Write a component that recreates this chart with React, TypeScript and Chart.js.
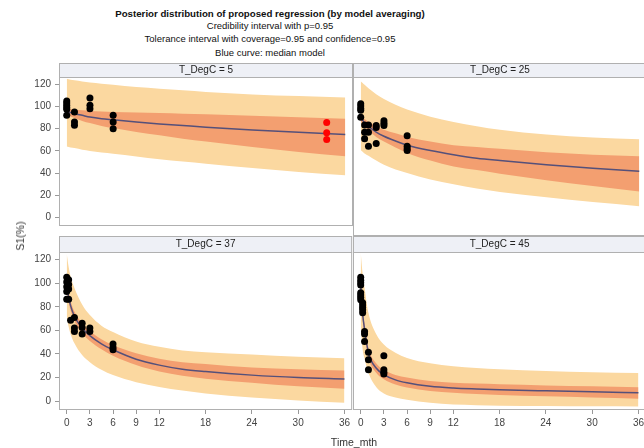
import React, { useEffect, useRef } from "react";
import { Chart, registerables } from "chart.js";

Chart.register(...registerables);

// ---------- data ----------
const TIMES = [0, 0.25, 0.5, 1, 2, 3, 4.5, 6, 9, 12, 15, 18, 24, 30, 36];
const X_TICKS = [0, 3, 6, 9, 12, 18, 24, 30, 36];
const Y_TICKS = [0, 20, 40, 60, 80, 100, 120];

const TITLE_LINES = [
  "Posterior distribution of proposed regression (by model averaging)",
  "Credibility interval with p=0.95",
  "Tolerance interval with coverage=0.95 and confidence=0.95",
  "Blue curve: median model",
];
const Y_TITLE = "S1(%)";
const X_TITLE = "Time_mth";

// T_DegC = 5
const MED_5 = [95.5, 95, 94.5, 93.5, 92, 90.5, 89, 88, 86, 84.3, 82.8, 81.3, 78.8, 76.7, 74.7];
const CRED_HI_5 = [98, 97.8, 97.5, 97, 96.5, 96, 95.5, 95, 94.5, 94, 93.5, 93, 91.7, 90.3, 89];
const CRED_LO_5 = [92.5, 91.8, 91, 89.5, 87, 85, 82.5, 80.5, 77, 74, 71, 68.5, 63.5, 59, 55.2];
const TOL_HI_5 = [125, 124.5, 124, 123.5, 122.5, 121.5, 120.5, 119.5, 117.5, 116, 114.5, 113, 110.8, 109.3, 108];
const TOL_LO_5 = [64, 63.5, 63, 62.5, 61, 60, 58.5, 57.5, 55, 52.5, 50.5, 48.5, 44.5, 41, 38];
const OBS_T_5 = [0, 0, 0, 0, 0, 0, 1, 1, 1, 3, 3, 3, 6, 6, 6];
const OBS_Y_5 = [105, 103, 101, 99, 97.5, 92, 95, 86, 83, 107.5, 101, 98, 92, 86, 80];
const RED_T_5 = [33.6, 33.6, 33.6];
const RED_Y_5 = [85.6, 76.3, 70.2];

// T_DegC = 25
const MED_25 = [92, 90, 88, 85, 80, 76.5, 72.5, 69, 64.5, 61, 58, 56, 52.5, 49.5, 47];
const CRED_HI_25 = [94, 92.5, 91, 88.5, 85, 82, 79, 76, 72, 69, 67.5, 66, 63, 61, 59.7];
const CRED_LO_25 = [89, 87, 85, 81.5, 76, 72, 67, 62.5, 56, 51, 48, 45, 39.5, 34.5, 30];
const TOL_HI_25 = [123, 121.5, 120, 117, 112, 108, 103, 99, 93, 88.5, 85, 82, 78, 75.5, 74];
const TOL_LO_25 = [65, 63.5, 62, 60, 56, 52.5, 48.5, 45.5, 40, 36, 32.5, 29.5, 25, 21, 17.5];
const OBS_T_25 = [0, 0, 0, 0, 0, 0.5, 0.5, 0.5, 1, 1, 1, 2, 2, 2, 3, 3, 3, 6, 6, 6, 6];
const OBS_Y_25 = [104, 102, 100, 98.5, 92.5, 86, 80, 74.5, 86, 80, 68, 85.5, 84, 70.5, 89.5, 87.5, 85.5, 77, 68, 66, 64.5];

// T_DegC = 37
const MED_37 = [98, 88, 81, 72, 62, 55.5, 48.5, 43.5, 35.5, 30.5, 27, 25, 22, 20, 18.8];
const CRED_HI_37 = [101, 92, 85, 76, 66, 59.5, 52.5, 47.5, 40.5, 36, 33, 31.5, 28.5, 27, 26];
const CRED_LO_37 = [95, 84, 77, 68, 57.5, 51, 44, 38.5, 30.5, 25, 21.5, 19, 15.5, 12.5, 10.5];
const TOL_HI_37 = [125, 114, 106, 96, 82, 73, 64, 58.5, 50.5, 46, 43, 41.5, 39.5, 37.5, 36.3];
const TOL_LO_37 = [72, 63, 57, 49, 39, 33, 26.5, 22, 16, 12, 9, 6.5, 3, 0.5, -1.4];
const OBS_T_37 = [0, 0, 0, 0, 0, 0.25, 0.25, 0.25, 0.25, 0.5, 1, 1, 1, 2, 2, 2, 3, 3, 6, 6, 6];
const OBS_Y_37 = [105, 101, 97, 93, 86.5, 103, 99, 95, 86.5, 68.5, 71, 62, 59, 66, 62.5, 57, 62, 59, 48.5, 45.5, 43.5];

// T_DegC = 45
const MED_45 = [98, 74, 61, 41, 28, 22.5, 18, 15.5, 12.5, 11, 10.2, 9.6, 8.7, 7.9, 7];
const CRED_HI_45 = [100, 78, 65, 45, 32, 26.5, 22, 20, 17, 15.5, 14.8, 14.3, 13.3, 12.5, 11.8];
const CRED_LO_45 = [95, 70, 57, 37, 24, 18.5, 14, 11.5, 8.5, 7, 6, 5.2, 4, 3, 2];
const TOL_HI_45 = [126, 108, 96, 75, 57, 48, 41, 36.5, 32, 29.5, 28, 27, 25.5, 24.5, 23.7];
const TOL_LO_45 = [65, 44, 36, 24, 12, 6.5, 3, 1, -1.5, -3, -3.5, -4, -4.3, -4.5, -4.6];
const OBS_T_45 = [0, 0, 0, 0, 0, 0, 0, 0, 0.25, 0.25, 0.25, 0.25, 0.25, 0.5, 0.5, 0.5, 1, 1, 1, 3, 3, 3, 3];
const OBS_Y_45 = [105, 102.5, 100.5, 98.5, 92, 90, 88, 86, 83.5, 81.5, 79.5, 77.5, 75, 59, 57, 50.5, 41.5, 35, 26.5, 38.5, 26.5, 24.5, 23];

// ---------- styles ----------
const TOL_COLOR = "#fbd8a0";
const CRED_COLOR = "#f39f70";
const MED_COLOR = "#55507a";
const FRAME_COLOR = "#b0b0b0";
const HEADER_BG = "#eef0f6";
const FONT = "'Liberation Sans', Arial, sans-serif";

type Panel = {
  label: string;
  med: number[]; credHi: number[]; credLo: number[]; tolHi: number[]; tolLo: number[];
  obsT: number[]; obsY: number[]; redT?: number[]; redY?: number[];
  left: number; top: number; w: number; h: number;
  showX: boolean; showY: boolean; headerH: number;
};

const PANELS: Panel[] = [
  { label: "T_DegC = 5", med: MED_5, credHi: CRED_HI_5, credLo: CRED_LO_5, tolHi: TOL_HI_5, tolLo: TOL_LO_5,
    obsT: OBS_T_5, obsY: OBS_Y_5, redT: RED_T_5, redY: RED_Y_5,
    left: 0, top: 63, w: 353, h: 173, showX: false, showY: true, headerH: 14 },
  { label: "T_DegC = 25", med: MED_25, credHi: CRED_HI_25, credLo: CRED_LO_25, tolHi: TOL_HI_25, tolLo: TOL_LO_25,
    obsT: OBS_T_25, obsY: OBS_Y_25,
    left: 353, top: 63, w: 294, h: 173, showX: false, showY: false, headerH: 14 },
  { label: "T_DegC = 37", med: MED_37, credHi: CRED_HI_37, credLo: CRED_LO_37, tolHi: TOL_HI_37, tolLo: TOL_LO_37,
    obsT: OBS_T_37, obsY: OBS_Y_37,
    left: 0, top: 236, w: 353, h: 212, showX: true, showY: true, headerH: 16 },
  { label: "T_DegC = 45", med: MED_45, credHi: CRED_HI_45, credLo: CRED_LO_45, tolHi: TOL_HI_45, tolLo: TOL_LO_45,
    obsT: OBS_T_45, obsY: OBS_Y_45,
    left: 353, top: 236, w: 294, h: 212, showX: true, showY: false, headerH: 16 },
];

const frameLabelPlugin = {
  id: "panelFrame",
  afterDraw(chart: any, _args: any, opts: any) {
    const { ctx, chartArea: a } = chart;
    const h = opts.headerH;
    ctx.save();
    ctx.fillStyle = HEADER_BG;
    ctx.fillRect(a.left, a.top - h, a.right - a.left, h);
    ctx.strokeStyle = FRAME_COLOR;
    ctx.lineWidth = 1;
    ctx.strokeRect(a.left + 0.5, a.top - h + 0.5, a.right - a.left - 1, h);
    ctx.strokeRect(a.left + 0.5, a.top + 0.5, a.right - a.left - 1, a.bottom - a.top - 1);
    ctx.fillStyle = "#222";
    ctx.font = `10px ${FONT}`;
    ctx.textAlign = "center";
    ctx.textBaseline = "middle";
    ctx.fillText(opts.label, (a.left + a.right) / 2, a.top - h / 2 + 0.5);
    ctx.restore();
  },
};

const pts = (xs: number[], ys: number[]) => xs.map((x, i) => ({ x, y: ys[i] }));
const curve = (ys: number[]) => TIMES.map((t, i) => ({ x: t, y: ys[i] }));

function PanelChart({ p }: { p: Panel }) {
  const ref = useRef<HTMLCanvasElement | null>(null);
  useEffect(() => {
    if (!ref.current) return;
    const band = (ys: number[], color: string, fill: any, order: number) => ({
      type: "line" as const,
      data: curve(ys),
      borderWidth: 0,
      borderColor: "rgba(0,0,0,0)",
      backgroundColor: color,
      pointRadius: 0,
      fill,
      cubicInterpolationMode: "monotone" as const,
      order,
    });
    const datasets: any[] = [
      band(p.tolHi, TOL_COLOR, "+1", 4),
      band(p.tolLo, TOL_COLOR, false, 4),
      band(p.credHi, CRED_COLOR, "+1", 3),
      band(p.credLo, CRED_COLOR, false, 3),
      {
        type: "line", data: curve(p.med), borderColor: MED_COLOR, borderWidth: 1.5,
        pointRadius: 0, fill: false, cubicInterpolationMode: "monotone", order: 2,
      },
      {
        type: "scatter", data: pts(p.obsT, p.obsY), backgroundColor: "#000",
        borderWidth: 0, pointRadius: 3.5, order: 1,
      },
    ];
    if (p.redT && p.redY) {
      datasets.push({
        type: "scatter", data: pts(p.redT, p.redY), backgroundColor: "#ff0000",
        borderWidth: 0, pointRadius: 3.5, order: 0,
      });
    }
    const tickFont = { family: FONT, size: 10 };
    const xAxisH = p.h - p.headerH - 158;
    const chart = new Chart(ref.current, {
      type: "line",
      data: { datasets },
      options: {
        animation: false,
        responsive: false,
        devicePixelRatio: 1,
        layout: { padding: { top: p.headerH, left: 0, right: 0, bottom: 0 }, autoPadding: false },
        plugins: {
          legend: { display: false },
          tooltip: { enabled: false },
          panelFrame: { label: p.label, headerH: p.headerH },
        } as any,
        scales: {
          x: {
            type: "linear",
            min: -1,
            max: 37,
            display: p.showX,
            afterBuildTicks: (axis: any) => { axis.ticks = X_TICKS.map((v) => ({ value: v })); },
            afterFit: (axis: any) => { axis.height = p.showX ? xAxisH : 0; },
            ticks: { font: tickFont, color: "#444", autoSkip: false, maxRotation: 0, minRotation: 0, padding: 3 },
            grid: { drawOnChartArea: false, drawTicks: true, tickLength: 4, color: "#999" },
            border: { display: false },
          },
          y: {
            type: "linear",
            min: -7.6,
            max: 126.5,
            display: p.showY,
            afterBuildTicks: (axis: any) => { axis.ticks = Y_TICKS.map((v) => ({ value: v })); },
            afterFit: (axis: any) => { axis.width = p.showY ? 59 : 0; },
            ticks: { font: tickFont, color: "#444", padding: 4 },
            grid: { drawOnChartArea: false, drawTicks: true, tickLength: 4, color: "#999" },
            border: { display: false },
          },
        },
      },
      plugins: [frameLabelPlugin],
    } as any);
    return () => chart.destroy();
  }, [p]);
  return (
    <canvas
      ref={ref}
      width={p.w}
      height={p.h}
      style={{ position: "absolute", left: p.left, top: p.top, width: p.w, height: p.h, display: "block" }}
    />
  );
}

export default function App() {
  const titleTops = [8, 20, 33.4, 46.7];
  return (
    <div
      style={{
        position: "fixed", left: 0, top: 0, width: 644, height: 448, overflow: "hidden",
        background: "#fff", fontFamily: FONT, color: "#111",
      }}
    >
      {TITLE_LINES.map((t, i) => (
        <div
          key={i}
          style={{
            position: "absolute", left: 0, width: 540, top: titleTops[i], textAlign: "center",
            fontSize: i === 0 ? 9.7 : 9.5, fontWeight: i === 0 ? "bold" : "normal",
            lineHeight: "12px", whiteSpace: "nowrap",
          }}
        >
          {t}
        </div>
      ))}
      {PANELS.map((p, i) => (
        <PanelChart key={i} p={p} />
      ))}
      <div
        style={{
          position: "absolute", left: 20, top: 236, transform: "translate(-50%, -50%) rotate(-90deg)",
          fontSize: 10.5, color: "#333", whiteSpace: "nowrap", lineHeight: "12px",
        }}
      >
        {Y_TITLE}
      </div>
      <div
        style={{
          position: "absolute", left: 354, top: 442, transform: "translate(-50%, -50%)",
          fontSize: 10.5, color: "#333", whiteSpace: "nowrap", lineHeight: "12px",
        }}
      >
        {X_TITLE}
      </div>
    </div>
  );
}
